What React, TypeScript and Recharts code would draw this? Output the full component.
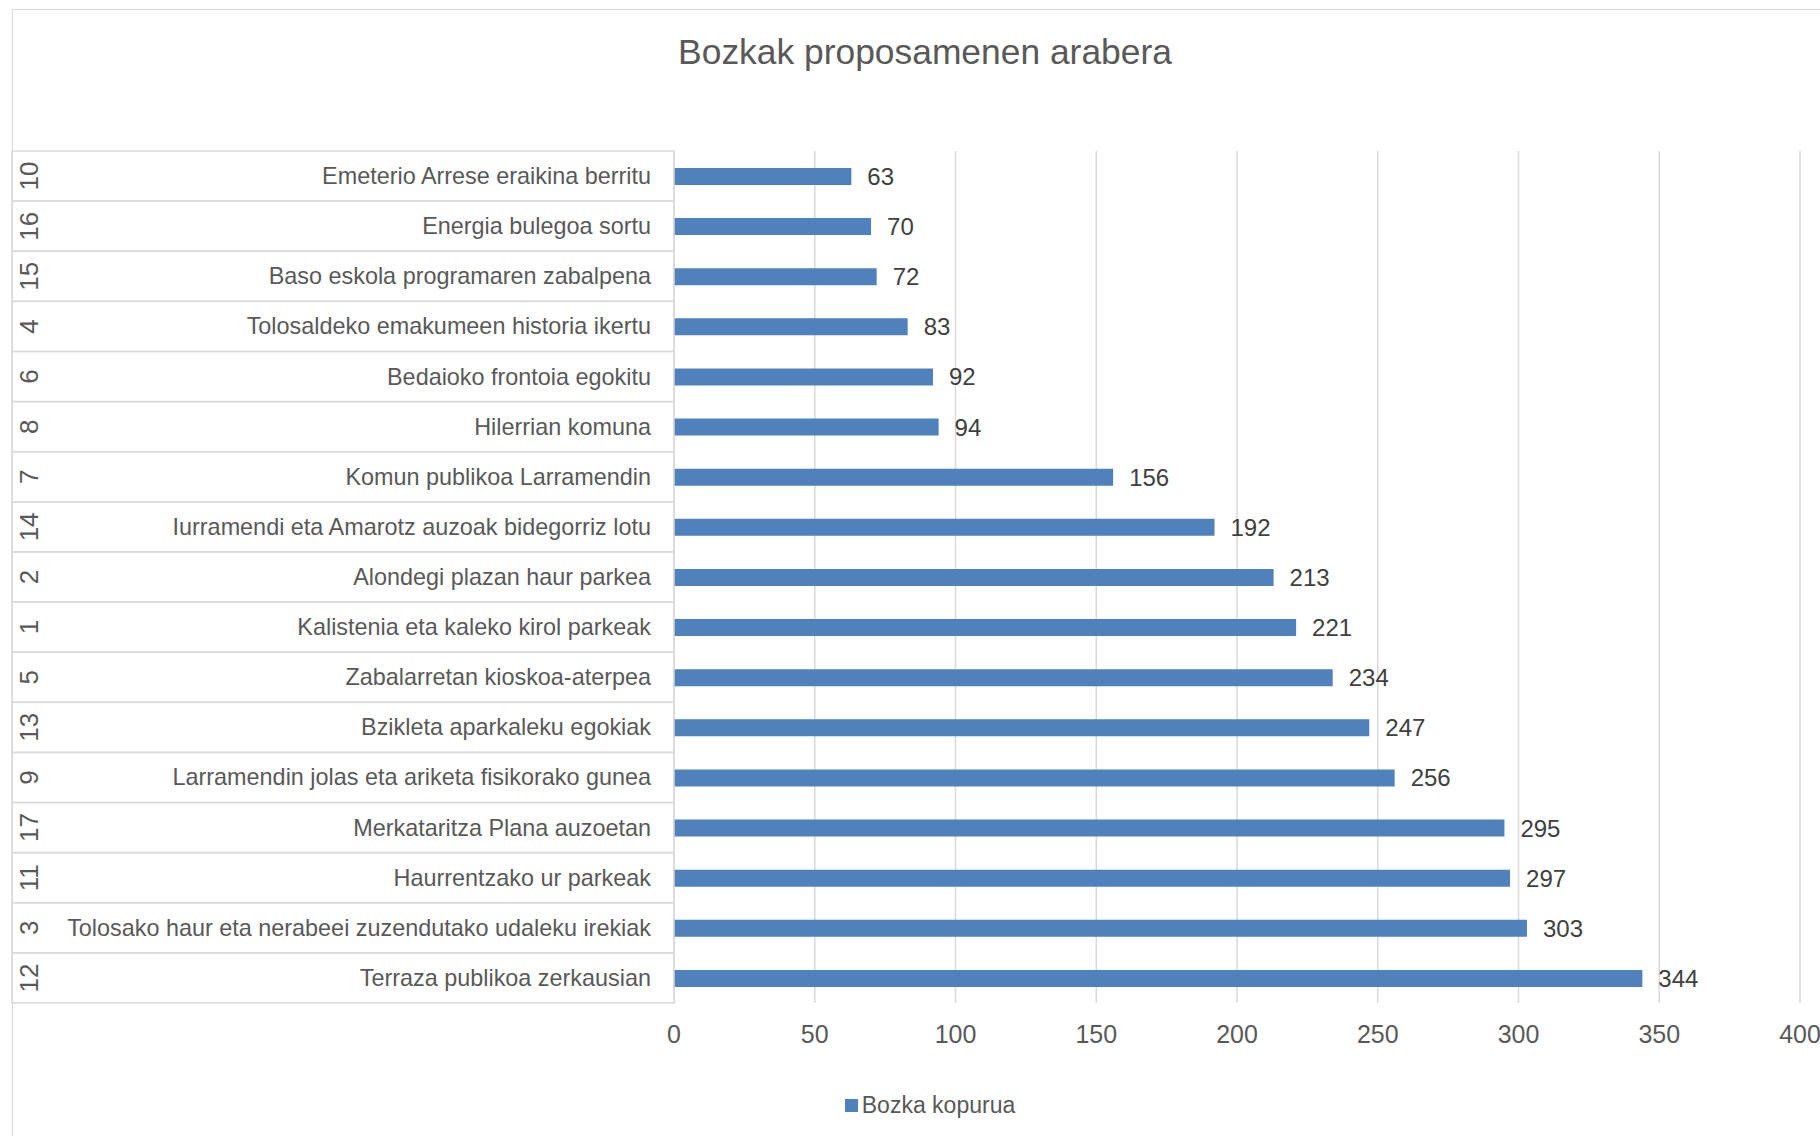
import { BarChart, Bar, XAxis, YAxis, CartesianGrid, Legend, LabelList } from 'recharts';

const codes = ["10", "16", "15", "4", "6", "8", "7", "14", "2", "1", "5", "13", "9", "17", "11", "3", "12"];

const proposals = [
    "Emeterio Arrese eraikina berritu",
    "Energia bulegoa sortu",
    "Baso eskola programaren zabalpena",
    "Tolosaldeko emakumeen historia ikertu",
    "Bedaioko frontoia egokitu",
    "Hilerrian komuna",
    "Komun publikoa Larramendin",
    "Iurramendi eta Amarotz auzoak bidegorriz lotu",
    "Alondegi plazan haur parkea",
    "Kalistenia eta kaleko kirol parkeak",
    "Zabalarretan kioskoa-aterpea",
    "Bzikleta aparkaleku egokiak",
    "Larramendin jolas eta ariketa fisikorako gunea",
    "Merkataritza Plana auzoetan",
    "Haurrentzako ur parkeak",
    "Tolosako haur eta nerabeei zuzendutako udaleku irekiak",
    "Terraza publikoa zerkausian"
];

const votes = [63, 70, 72, 83, 92, 94, 156, 192, 213, 221, 234, 247, 256, 295, 297, 303, 344];

const xTicks = [0, 50, 100, 150, 200, 250, 300, 350, 400];

const data = proposals.map((name, i) => ({ code: codes[i], name, votes: votes[i] }));

const FONT = '"Liberation Sans", Arial, sans-serif';
const TEXT = "#595959";
const GRID = "#D9D9D9";
const BLUE = "#4F81BD";

const TOP = 151;
const PLOT_BOTTOM = 1003;
const PLOT_LEFT = 674;
const BAND = (PLOT_BOTTOM - TOP) / codes.length;
const LEGEND_H = 26;

function CategoryTick(props: any) {
    const { y, payload, index } = props;
    return (
        <g>
            <rect x={12} y={y - BAND / 2} width={PLOT_LEFT - 12} height={BAND} fill="none" stroke={GRID} strokeWidth={1.5} />
            <text x={651} y={y} textAnchor="end" dominantBaseline="central" fill={TEXT} fontSize={23.4} fontFamily={FONT}>
                {payload.value}
            </text>
            <text
                transform={`translate(29,${y}) rotate(-90)`}
                textAnchor="middle"
                dominantBaseline="central"
                fill={TEXT}
                fontSize={26}
                fontFamily={FONT}
            >
                {codes[index]}
            </text>
        </g>
    );
}

function LegendBox() {
    return (
        <div style={{ height: LEGEND_H, display: "flex", alignItems: "center", justifyContent: "center", fontFamily: FONT, fontSize: 23, color: TEXT }}>
            <span style={{ display: "inline-block", width: 13, height: 13, background: BLUE, marginRight: 4 }} />
            Bozka kopurua
        </div>
    );
}

function App() {
    return (
        <div style={{ position: "absolute", left: 0, top: 0, width: 1820, height: 1136, overflow: "hidden", background: "#fff" }}>
            <div style={{ position: "absolute", left: 12, top: 9, width: 1830, height: 1150, border: `1.5px solid ${GRID}` }} />
            <div style={{ position: "absolute", left: 0, top: 32, width: 1850, textAlign: "center", fontFamily: FONT, fontSize: 35.4, color: TEXT }}>
                Bozkak proposamenen arabera
            </div>
            <div style={{ position: "absolute", left: 0, top: 0 }}>
                <BarChart
                    width={1820}
                    height={1136}
                    data={data}
                    layout="vertical"
                    margin={{ top: TOP, right: 20, bottom: 1136 - PLOT_BOTTOM - 60 - LEGEND_H, left: 0 }}
                    barCategoryGap="33%"
                >
                    <CartesianGrid horizontal={false} stroke={GRID} strokeWidth={1.5} />
                    <XAxis
                        type="number"
                        domain={[0, 400]}
                        ticks={xTicks}
                        axisLine={false}
                        tickLine={false}
                        height={60}
                        tick={{ fill: TEXT, fontSize: 25, fontFamily: FONT, dy: 14 }}
                        interval={0}
                    />
                    <YAxis
                        type="category"
                        dataKey="name"
                        width={PLOT_LEFT}
                        axisLine={false}
                        tickLine={false}
                        interval={0}
                        tick={<CategoryTick />}
                    />
                    <Legend
                        content={<LegendBox />}
                        wrapperStyle={{ position: "absolute", left: 0, top: 1092, width: 1860 }}
                    />
                    <Bar dataKey="votes" fill={BLUE} barSize={17} isAnimationActive={false}>
                        <LabelList dataKey="votes" position="right" offset={16} fill="#404040" fontSize={24} fontFamily={FONT} />
                    </Bar>
                </BarChart>
            </div>
        </div>
    );
}

export default App;
